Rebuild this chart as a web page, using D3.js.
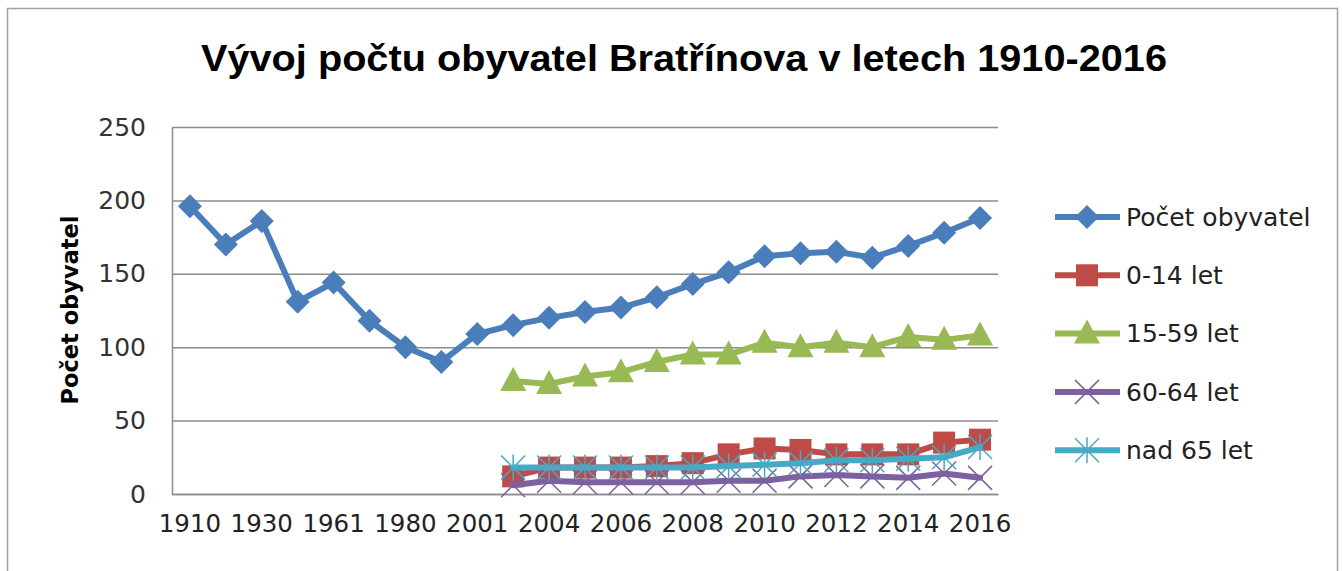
<!DOCTYPE html>
<html>
<head>
<meta charset="utf-8">
<script src="https://cdn.jsdelivr.net/npm/d3@7"></script>
<style>
  body { margin: 0; background: #fff; }
  svg { display: block; }
</style>
</head>
<body>
<div id="chart"></div>
<script>
// categories (x axis) and series values
const years = ["1910", "1921", "1930", "1950", "1961", "1970", "1980", "1991", "2001", "2003", "2004", "2005",
  "2006", "2007", "2008", "2009", "2010", "2011", "2012", "2013", "2014", "2015", "2016"];
const yearLabels = ["1910", "1930", "1961", "1980", "2001", "2004", "2006", "2008", "2010", "2012", "2014", "2016"];
const yTicks = [0, 50, 100, 150, 200, 250];

const seriesNames = ["Počet obyvatel", "0-14 let", "15-59 let", "60-64 let", "nad 65 let"];
const total = [196, 170, 186, 131, 144, 118, 100, 90, 109, 115, 120, 124, 127, 134, 143, 151, 162, 164, 165, 161, 169, 178, 188];
const age0014 = [null, null, null, null, null, null, null, null, null, 12, 18, 18, 18, 19, 21, 27, 31, 30, 27, 27, 27, 35, 37];
const age1559 = [null, null, null, null, null, null, null, null, null, 77, 75, 80, 83, 90, 95, 95, 103, 100, 103, 100, 107, 105, 108];
const age6064 = [null, null, null, null, null, null, null, null, null, 6, 9, 8, 8, 8, 8, 9, 9, 12, 13, 12, 11, 14, 11];
const age65 = [null, null, null, null, null, null, null, null, null, 18, 18, 18, 18, 18, 18, 19, 20, 21, 23, 23, 24, 25, 32];

const colors = ["#4A7EBB", "#BE4B48", "#98B954", "#7D60A0", "#46AAC5"];
const markers = ["diamond", "square", "triangle", "x", "star"];
const allSeries = [total, age0014, age1559, age6064, age65];

const width = 1343, height = 571;
const margin = {top: 127, right: 345, bottom: 77, left: 172};

const svg = d3.select("#chart").append("svg")
  .attr("width", width)
  .attr("height", height);

// outer chart frame
svg.append("rect")
  .attr("x", 7.5).attr("y", 8.5)
  .attr("width", 1330).attr("height", 600)
  .attr("fill", "#fff")
  .attr("stroke", "#a0a0a0")
  .attr("stroke-width", 1.5);

// title
svg.append("text")
  .attr("x", 684).attr("y", 71)
  .attr("text-anchor", "middle")
  .attr("font-family", "Liberation Sans, Arial, sans-serif")
  .attr("font-weight", "bold")
  .attr("font-size", 37)
  .attr("textLength", 966)
  .attr("lengthAdjust", "spacingAndGlyphs")
  .attr("fill", "#000")
  .text("Vývoj počtu obyvatel Bratřínova v letech 1910-2016");

let xScale = d3.scaleBand()
  .domain(years)
  .range([margin.left, width - margin.right]);

let yScale = d3.scaleLinear()
  .domain([0, 250])
  .range([height - margin.bottom, margin.top]);

const cx = (i) => xScale(years[i]) + xScale.bandwidth() / 2;

// gridlines
svg.append("g")
  .attr("transform", `translate(${margin.left}, 0)`)
  .call(d3.axisLeft(yScale).tickValues(yTicks).tickSize(-(width - margin.right - margin.left)).tickFormat(""))
  .call(g => g.select(".domain").remove())
  .call(g => g.selectAll("line").attr("stroke", "#8c8c8c").attr("stroke-width", 1.5));

// y axis
svg.append("g")
  .attr("transform", `translate(${margin.left}, 0)`)
  .call(d3.axisLeft(yScale).tickValues(yTicks).tickSize(0).tickPadding(26))
  .call(g => g.select(".domain").attr("stroke", "#8c8c8c").attr("stroke-width", 1.5))
  .call(g => g.selectAll("text")
    .attr("font-family", "DejaVu Sans, sans-serif")
    .attr("font-size", 25)
    .attr("fill", "#333"));

// x axis
svg.append("g")
  .attr("transform", `translate(0, ${height - margin.bottom})`)
  .call(d3.axisBottom(xScale).tickValues(yearLabels).tickSize(0).tickPadding(21))
  .call(g => g.select(".domain").attr("stroke", "#8c8c8c").attr("stroke-width", 1.5))
  .call(g => g.selectAll("text")
    .attr("font-family", "DejaVu Sans, sans-serif")
    .attr("font-size", 24.5)
    .attr("fill", "#222"));

// y axis title
svg.append("text")
  .attr("transform", "translate(78, 310) rotate(-90)")
  .attr("text-anchor", "middle")
  .attr("font-family", "DejaVu Sans, sans-serif")
  .attr("font-weight", "bold")
  .attr("font-size", 22.5)
  .attr("fill", "#000")
  .text("Počet obyvatel");

// marker drawing
function drawMarker(g, type, color, x, y) {
  if (type === "diamond") {
    g.append("path")
      .attr("d", `M${x},${y - 12}L${x + 12},${y}L${x},${y + 12}L${x - 12},${y}Z`)
      .attr("fill", color);
  } else if (type === "square") {
    g.append("rect")
      .attr("x", x - 11).attr("y", y - 11)
      .attr("width", 22).attr("height", 22)
      .attr("fill", color);
  } else if (type === "triangle") {
    g.append("path")
      .attr("d", `M${x},${y - 14}L${x + 13},${y + 10}L${x - 13},${y + 10}Z`)
      .attr("fill", color);
  } else if (type === "x") {
    g.append("path")
      .attr("d", `M${x - 12},${y - 12}L${x + 12},${y + 12}M${x + 12},${y - 12}L${x - 12},${y + 12}`)
      .attr("stroke", color).attr("stroke-width", 1.5).attr("fill", "none");
  } else {
    g.append("path")
      .attr("d", `M${x - 12},${y - 12}L${x + 12},${y + 12}M${x + 12},${y - 12}L${x - 12},${y + 12}M${x},${y - 13}L${x},${y + 13}`)
      .attr("stroke", color).attr("stroke-width", 1.5).attr("fill", "none");
  }
}

const line = d3.line()
  .defined(d => d.v != null)
  .x(d => cx(d.i))
  .y(d => yScale(d.v));

allSeries.forEach((vals, s) => {
  const pts = vals.map((v, i) => ({i: i, v: v}));
  const g = svg.append("g");
  g.append("path")
    .datum(pts)
    .attr("d", line)
    .attr("fill", "none")
    .attr("stroke", colors[s])
    .attr("stroke-width", 6)
    .attr("stroke-linejoin", "round")
    .attr("stroke-linecap", "round");
  pts.filter(d => d.v != null).forEach(d => drawMarker(g, markers[s], colors[s], cx(d.i), yScale(d.v)));
});

// legend
const legend = svg.append("g");
seriesNames.forEach((name, s) => {
  const ly = 217 + s * 58.3;
  legend.append("line")
    .attr("x1", 1055).attr("x2", 1120)
    .attr("y1", ly).attr("y2", ly)
    .attr("stroke", colors[s])
    .attr("stroke-width", 6);
  drawMarker(legend, markers[s], colors[s], 1087, ly);
  legend.append("text")
    .attr("x", 1126).attr("y", ly)
    .attr("dy", "0.35em")
    .attr("font-family", "DejaVu Sans, sans-serif")
    .attr("font-size", 25)
    .attr("fill", "#222")
    .text(name);
});
</script>
</body>
</html>
